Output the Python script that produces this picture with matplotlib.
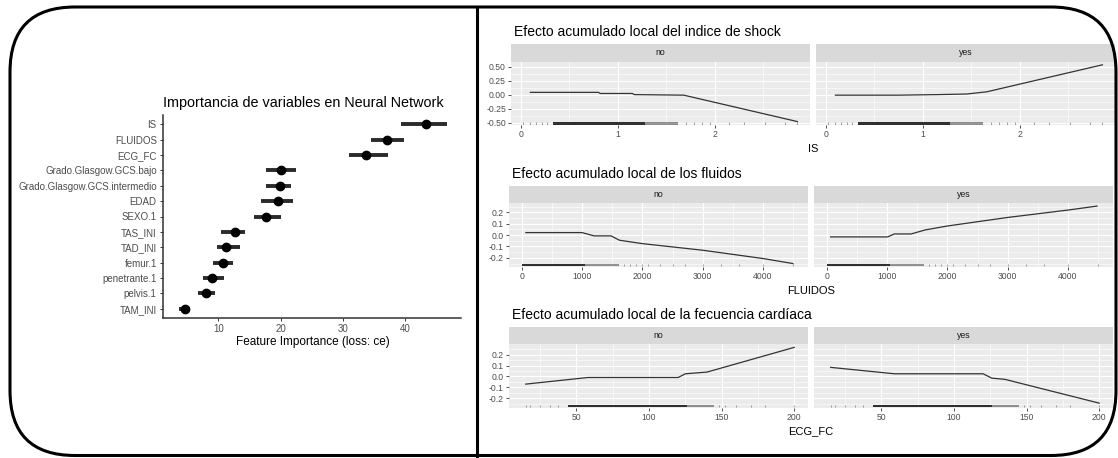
import matplotlib.pyplot as plt
import matplotlib.transforms as mtransforms
from matplotlib.patches import FancyBboxPatch
from matplotlib.lines import Line2D

plt.rcParams["font.family"] = ["Liberation Sans", "DejaVu Sans"]

# --- variable importance (left) ---
features = ["IS", "FLUIDOS", "ECG_FC", "Grado.Glasgow.GCS.bajo",
            "Grado.Glasgow.GCS.intermedio", "EDAD", "SEXO.1", "TAS_INI",
            "TAD_INI", "femur.1", "penetrante.1", "pelvis.1", "TAM_INI"]
importance = [43.3, 37.1, 33.8, 20.0, 19.9, 19.6, 17.7, 12.7, 11.3, 10.8, 8.9, 8.0, 4.6]
imp_low = [39.3, 34.6, 31.0, 17.7, 17.7, 16.8, 15.7, 10.5, 9.7, 9.2, 7.5, 6.8, 3.6]
imp_high = [46.8, 39.9, 37.2, 22.5, 21.7, 22.0, 20.0, 14.3, 13.5, 12.3, 10.9, 9.5, 5.5]

# --- ALE curves (right) ---
is_x_no = [0.1, 0.8, 0.82, 1.15, 1.17, 1.68, 2.85]
is_y_no = [0.04, 0.04, 0.02, 0.02, 0.0, -0.01, -0.48]
is_x_yes = [0.1, 0.75, 1.15, 1.45, 1.66, 2.85]
is_y_yes = [-0.01, -0.01, 0.0, 0.01, 0.05, 0.53]

fl_x_no = [70, 1000, 1200, 1480, 1620, 2000, 3000, 4000, 4495]
fl_y_no = [0.022, 0.022, -0.007, -0.007, -0.045, -0.075, -0.133, -0.206, -0.25]
fl_x_yes = [66, 1010, 1120, 1400, 1630, 2000, 3000, 4000, 4480]
fl_y_yes = [-0.016, -0.016, 0.01, 0.01, 0.045, 0.08, 0.155, 0.22, 0.255]

fc_x_no = [15, 58, 120, 125, 140, 200]
fc_y_no = [-0.071, -0.01, -0.01, 0.024, 0.04, 0.267]
fc_x_yes = [15, 59, 120, 126, 135, 200]
fc_y_yes = [0.083, 0.024, 0.024, -0.016, -0.027, -0.246]

# rug: dense spans, lighter spans and single observations
is_rug_dense = [(0.33, 1.28)]
is_rug_mid = [(1.28, 1.62)]
is_rug_sparse = [0.02, 0.1, 0.16, 0.22, 0.27, 1.7, 1.78, 1.87, 1.95, 2.15, 2.3, 2.52, 2.72, 2.85]
fl_rug_dense = [(0, 1050)]
fl_rug_mid = [(1050, 1620)]
fl_rug_sparse = [1700, 1800, 1900, 2000, 2100, 2300, 2500, 2700, 3000, 3300, 3600, 4000, 4500]
fc_rug_dense = [(44, 126)]
fc_rug_mid = [(126, 145)]
fc_rug_sparse = [15, 18, 25, 32, 37, 148, 152, 160, 170, 180, 200]

W, H = 1118, 458
fig = plt.figure(figsize=(W / 100, H / 100), dpi=100)
fig.patch.set_facecolor("white")


def rect(x0, x1, y0, y1):
    return [x0 / W, 1 - y1 / H, (x1 - x0) / W, (y1 - y0) / H]


def ftext(px, py, s, **kw):
    fig.text(px / W, 1 - py / H, s, **kw)


# left chart
ax = fig.add_axes(rect(163, 461, 115, 318))
ypos = list(range(len(features), 0, -1))
ax.hlines(ypos, imp_low, imp_high, color="#2b2b2b", lw=2.8)
ax.plot(importance, ypos, "o", color="black", ms=6)
ax.set_xlim(1.1, 49)
ax.set_ylim(0.4, len(features) + 0.6)
ax.set_yticks(ypos)
ax.set_yticklabels(features)
ax.set_xticks([10, 20, 30, 40])
for side in ["top", "right"]:
    ax.spines[side].set_visible(False)
for side in ["left", "bottom"]:
    ax.spines[side].set_color("#333333")
    ax.spines[side].set_linewidth(1.1)
ax.tick_params(length=2.5, width=0.7, color="#333333", labelcolor="#4d4d4d",
               labelsize=7, pad=2)
ftext(163, 102.7, "Importancia de variables en Neural Network", fontsize=10.4,
      ha="left", va="center", color="black")
ftext(313, 341.7, "Feature Importance (loss: ce)", fontsize=8.5, ha="center",
      va="center", color="black")


def ale_row(x0, top, title, xlabel, xlim, ylim, xticks, yticks, yfmt, curves,
            rug, minor_x, minor_y):
    strip_top = top
    strip_bot = top + 17.5
    panel_bot = strip_bot + 63.5
    lefts = [x0, x0 + 305]
    width = 299
    ftext(x0 + 3, top - 11.5, title, fontsize=10, ha="left", va="center",
          color="black")
    for i, (name, (cx, cy)) in enumerate(zip(["no", "yes"], curves)):
        l = lefts[i]
        sax = fig.add_axes(rect(l, l + width, strip_top, strip_bot))
        sax.set_facecolor("#d9d9d9")
        sax.set_xticks([])
        sax.set_yticks([])
        for s in sax.spines.values():
            s.set_visible(False)
        sax.text(0.5, 0.5, name, transform=sax.transAxes, ha="center",
                 va="center", fontsize=6.3, color="#1a1a1a")

        pax = fig.add_axes(rect(l, l + width, strip_bot, panel_bot))
        pax.set_facecolor("#ebebeb")
        for s in pax.spines.values():
            s.set_visible(False)
        pax.set_xlim(*xlim)
        pax.set_ylim(*ylim)
        pax.set_xticks(xticks)
        pax.set_yticks(yticks)
        pax.set_xticks(minor_x, minor=True)
        pax.set_yticks(minor_y, minor=True)
        pax.grid(which="major", color="white", lw=0.8)
        pax.grid(which="minor", color="white", lw=0.4)
        pax.set_axisbelow(True)
        pax.tick_params(which="minor", length=0)
        pax.tick_params(which="major", length=2.2, width=0.6, color="#333333",
                        labelcolor="#4d4d4d", labelsize=6.2, pad=1.5)
        if i == 0:
            pax.set_yticklabels([yfmt % v for v in yticks])
        else:
            pax.tick_params(axis="y", left=False, labelleft=False)
        pax.plot(cx, cy, color="#333333", lw=0.9, zorder=3)

        dense, mid, sparse = rug
        trans = mtransforms.blended_transform_factory(pax.transData, pax.transAxes)
        pax.broken_barh([(a, b - a) for a, b in dense], (0.005, 0.035),
                        transform=trans, color="black", alpha=0.8, lw=0,
                        zorder=2)
        pax.broken_barh([(a, b - a) for a, b in mid], (0.005, 0.035),
                        transform=trans, color="black", alpha=0.4, lw=0,
                        zorder=2)
        pax.vlines(sparse, 0.005, 0.04, transform=trans, color="black", lw=0.5,
                   alpha=0.5, zorder=2)
    ftext(x0 + (width * 2 + 6) / 2, panel_bot + 24, xlabel, fontsize=8,
          ha="center", va="center", color="black")


ale_row(511, 44, "Efecto acumulado local del indice de shock", "IS",
        (-0.1, 2.98), (-0.541, 0.589), [0, 1, 2],
        [-0.5, -0.25, 0, 0.25, 0.5], "%.2f",
        [(is_x_no, is_y_no), (is_x_yes, is_y_yes)],
        (is_rug_dense, is_rug_mid, is_rug_sparse),
        [0.5, 1.5, 2.5], [-0.375, -0.125, 0.125, 0.375])

ale_row(509, 185.5, "Efecto acumulado local de los fluidos", "FLUIDOS",
        (-210, 4745), (-0.276, 0.282), [0, 1000, 2000, 3000, 4000],
        [-0.2, -0.1, 0, 0.1, 0.2], "%.1f",
        [(fl_x_no, fl_y_no), (fl_x_yes, fl_y_yes)],
        (fl_rug_dense, fl_rug_mid, fl_rug_sparse),
        [500, 1500, 2500, 3500, 4500], [-0.25, -0.15, -0.05, 0.05, 0.15, 0.25])

ale_row(509, 326.5, "Efecto acumulado local de la fecuencia cardíaca", "ECG_FC",
        (3.5, 209.5), (-0.286, 0.298), [50, 100, 150, 200],
        [-0.2, -0.1, 0, 0.1, 0.2], "%.1f",
        [(fc_x_no, fc_y_no), (fc_x_yes, fc_y_yes)],
        (fc_rug_dense, fc_rug_mid, fc_rug_sparse),
        [25, 75, 125, 175], [-0.25, -0.15, -0.05, 0.05, 0.15, 0.25])

# outer rounded frame and divider, in pixel coordinates
ident = mtransforms.IdentityTransform()
frame = FancyBboxPatch((10, 2.5), 1106, 448.5,
                       boxstyle="round,pad=0,rounding_size=65",
                       fill=False, ec="black", lw=2.2, transform=ident)
fig.add_artist(frame)
fig.add_artist(Line2D([477, 477], [2.5, 451], color="black", lw=2.2,
                      transform=ident))

fig.savefig("out.png", dpi=100)
